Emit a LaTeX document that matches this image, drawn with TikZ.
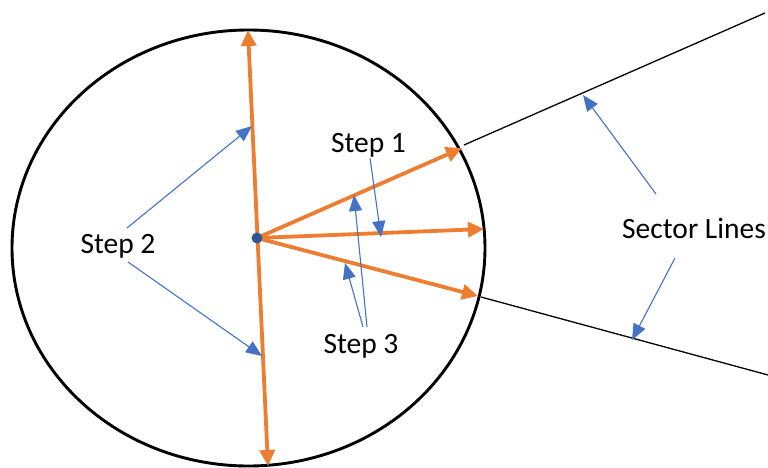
\documentclass[tikz,border=0pt]{standalone}
\usepackage{fontspec}
\setmainfont{Carlito}
\usetikzlibrary{arrows.meta}
\definecolor{orng}{HTML}{ED7D31}
\definecolor{blu}{HTML}{4472C4}
\definecolor{dotblue}{HTML}{2F5597}
\begin{document}
\begin{tikzpicture}[x=1pt,y=-1pt,
  orangearrow/.style={draw=orng, line width=3.8pt, -{Triangle[length=16pt,width=15pt]}},
  bluearrow/.style={draw=blu, line width=1.1pt, -{Triangle[length=16pt,width=13pt]}},
  sectorline/.style={draw=black, line width=1.3pt},
  lbl/.style={font=\fontsize{29.5}{31}\selectfont, inner sep=0pt, anchor=base},
]
\useasboundingbox (0,0) rectangle (768,468);
% circle
\draw[line width=2.9pt] (248.5,248) ellipse [x radius=236.5, y radius=218];
% points
\coordinate (c) at (257,238);
\coordinate (top) at (248,30);
\coordinate (bot) at (268,466);
\coordinate (r1) at (462,148);
\coordinate (r2) at (484,229);
\coordinate (r3) at (478,296);
\coordinate (s1a) at (464,145);
\coordinate (s1b) at (765,13);
\coordinate (s2a) at (481,297);
\coordinate (s2b) at (768,375);
% sector lines
\draw[sectorline] (s1a) -- (s1b);
\draw[sectorline] (s2a) -- (s2b);
% orange arrows
\draw[orangearrow, {Triangle[length=16pt,width=15pt]}-{Triangle[length=16pt,width=15pt]}] (bot) -- (top);
\draw[orangearrow] (c) -- (r1);
\draw[orangearrow] (c) -- (r2);
\draw[orangearrow] (c) -- (r3);
\fill[dotblue] (c) circle (5.5);
% labels
\node[lbl] (step1) at (368.5,152) {Step 1};
\node[lbl] (step2) at (118,253) {Step 2};
\node[lbl] (step3) at (361,353) {Step 3};
\node[lbl] (sector) at (694,238) {Sector Lines};
% blue arrows
\coordinate (b1s) at (370,158);
\coordinate (b1t) at (381,237);
\draw[bluearrow] (b1s) -- (b1t);
\coordinate (b2us) at (127,228);
\coordinate (b2ut) at (252,126);
\coordinate (b2ls) at (128,262);
\coordinate (b2lt) at (262,356);
\draw[bluearrow] (b2us) -- (b2ut);
\draw[bluearrow] (b2ls) -- (b2lt);
\coordinate (b3as) at (367,327);
\coordinate (b3at) at (354,195);
\coordinate (b3bs) at (363,327);
\coordinate (b3bt) at (345,263);
\draw[bluearrow] (b3as) -- (b3at);
\draw[bluearrow] (b3bs) -- (b3bt);
\coordinate (bsus) at (656,194);
\coordinate (bsut) at (583,95);
\coordinate (bsls) at (675,258);
\coordinate (bslt) at (632,340);
\draw[bluearrow] (bsus) -- (bsut);
\draw[bluearrow] (bsls) -- (bslt);
\end{tikzpicture}
\end{document}
